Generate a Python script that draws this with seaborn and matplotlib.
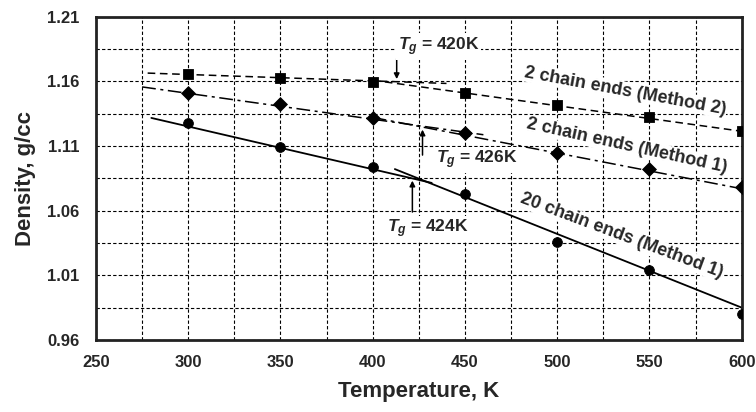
import numpy as np
import pandas as pd
import seaborn as sns
import matplotlib.pyplot as plt
from matplotlib.ticker import MultipleLocator, FormatStrFormatter

sns.set_style('white')
plt.rcParams['font.family'] = ['Liberation Sans', 'DejaVu Sans']
plt.rcParams['font.weight'] = 'bold'
plt.rcParams['mathtext.fontset'] = 'custom'
plt.rcParams['mathtext.it'] = 'Liberation Sans:bold:italic'
plt.rcParams['mathtext.rm'] = 'Liberation Sans:bold'

# simulation points
temps = [300, 350, 400, 450, 500, 550, 600]
rho_m2 = [1.1659, 1.1628, 1.1597, 1.1512, 1.1419, 1.1326, 1.1218]
rho_m1 = [1.1512, 1.1427, 1.1318, 1.1202, 1.1047, 1.0924, 1.0784]
rho_20 = [1.1280, 1.1094, 1.0939, 1.0730, 1.0359, 1.0142, 0.9799]

# fitted segments (glass / melt), end points
m2_glass_T, m2_glass_rho = [278, 440], [1.1665, 1.1585]
m2_melt_T, m2_melt_rho = [400, 605], [1.1610, 1.1205]
m1_glass_T, m1_glass_rho = [275, 460], [1.1558, 1.1188]
m1_melt_T, m1_melt_rho = [400, 600], [1.1322, 1.0770]
c20_glass_T, c20_glass_rho = [280, 432], [1.1318, 1.0815]
c20_melt_T, c20_melt_rho = [412, 600], [1.0922, 0.9850]

# Tg arrows: (T, tail, head)
tg_arrows = [(413, 1.1798, 1.1597), (427, 1.1009, 1.1249), (421.5, 1.0568, 1.0854)]
tg_labels = ['420K', '426K', '424K']
tg_label_pos = [(413.5, 1.1868), (434.5, 1.0993), (407.5, 1.0459)]

series_labels = ['2 chain ends (Method 2)', '2 chain ends (Method 1)', '20 chain ends (Method 1)']
series_label_pos = [(537, 1.1527, -10.5), (538, 1.1102, -12.5), (535, 1.0405, -20.5)]

y_ticks = [0.96, 1.01, 1.06, 1.11, 1.16, 1.21]
y_minor = [0.985, 1.035, 1.085, 1.135, 1.185]

fig = plt.figure(figsize=(7.56, 4.12), dpi=100)
ax = fig.add_axes([0.127, 0.175, 0.854, 0.784])

ax.plot(m2_glass_T, m2_glass_rho, color='black', lw=1.1, dashes=(5, 3))
ax.plot(m2_melt_T, m2_melt_rho, color='black', lw=1.1, dashes=(5, 3))
ax.plot(m1_glass_T, m1_glass_rho, color='black', lw=1.1, dashes=(9, 3, 2, 3))
ax.plot(m1_melt_T, m1_melt_rho, color='black', lw=1.1, dashes=(9, 3, 2, 3))
ax.plot(c20_glass_T, c20_glass_rho, color='black', lw=1.3)
ax.plot(c20_melt_T, c20_melt_rho, color='black', lw=1.3)

df = pd.DataFrame({'T': temps, 'm2': rho_m2, 'm1': rho_m1, 'c20': rho_20})
sns.scatterplot(data=df, x='T', y='m2', marker='s', s=55, color='black', edgecolor='black', ax=ax, zorder=5)
sns.scatterplot(data=df, x='T', y='m1', marker='D', s=50, color='black', edgecolor='black', ax=ax, zorder=5)
sns.scatterplot(data=df, x='T', y='c20', marker='o', s=50, color='black', edgecolor='black', ax=ax, zorder=5)

for (t, y0, y1) in tg_arrows:
    ax.annotate('', xy=(t, y1), xytext=(t, y0),
                arrowprops=dict(arrowstyle='-|>', color='black', lw=1.1, mutation_scale=8))
for lab, (t, y) in zip(tg_labels, tg_label_pos):
    ax.text(t, y, '$T_g$ = ' + lab, fontsize=12.5, fontweight='bold', ha='left', va='center',
            bbox=dict(facecolor='white', edgecolor='none', pad=1.5), zorder=4)

for lab, (t, y, rot) in zip(series_labels, series_label_pos):
    ax.text(t, y, lab, fontsize=13, fontweight='bold', ha='center', va='center',
            rotation=rot, rotation_mode='anchor',
            bbox=dict(facecolor='white', edgecolor='none', pad=0.5), zorder=4)

ax.set_xlim(250, 600)
ax.set_ylim(0.96, 1.21)
ax.xaxis.set_major_locator(MultipleLocator(50))
ax.xaxis.set_minor_locator(MultipleLocator(25))
ax.set_yticks(y_ticks)
ax.set_yticks(y_minor, minor=True)
ax.yaxis.set_major_formatter(FormatStrFormatter('%.2f'))
ax.grid(True, which='both', color='black', lw=0.8, linestyle=(0, (3, 2)))
ax.tick_params(axis='both', which='both', direction='in', length=3, width=1, labelsize=12)
ax.tick_params(axis='y', pad=12)
ax.tick_params(axis='x', pad=11, length=0)
for lbl in ax.get_xticklabels() + ax.get_yticklabels():
    lbl.set_fontweight('bold')
for sp in ax.spines.values():
    sp.set_color('#222222')
    sp.set_linewidth(2)
    sp.set_visible(True)

ax.set_xlabel('Temperature, K', fontsize=16, fontweight='bold', labelpad=8)
ax.set_ylabel('Density, g/cc', fontsize=16, fontweight='bold', labelpad=8)

fig.savefig('out.png', dpi=100)
